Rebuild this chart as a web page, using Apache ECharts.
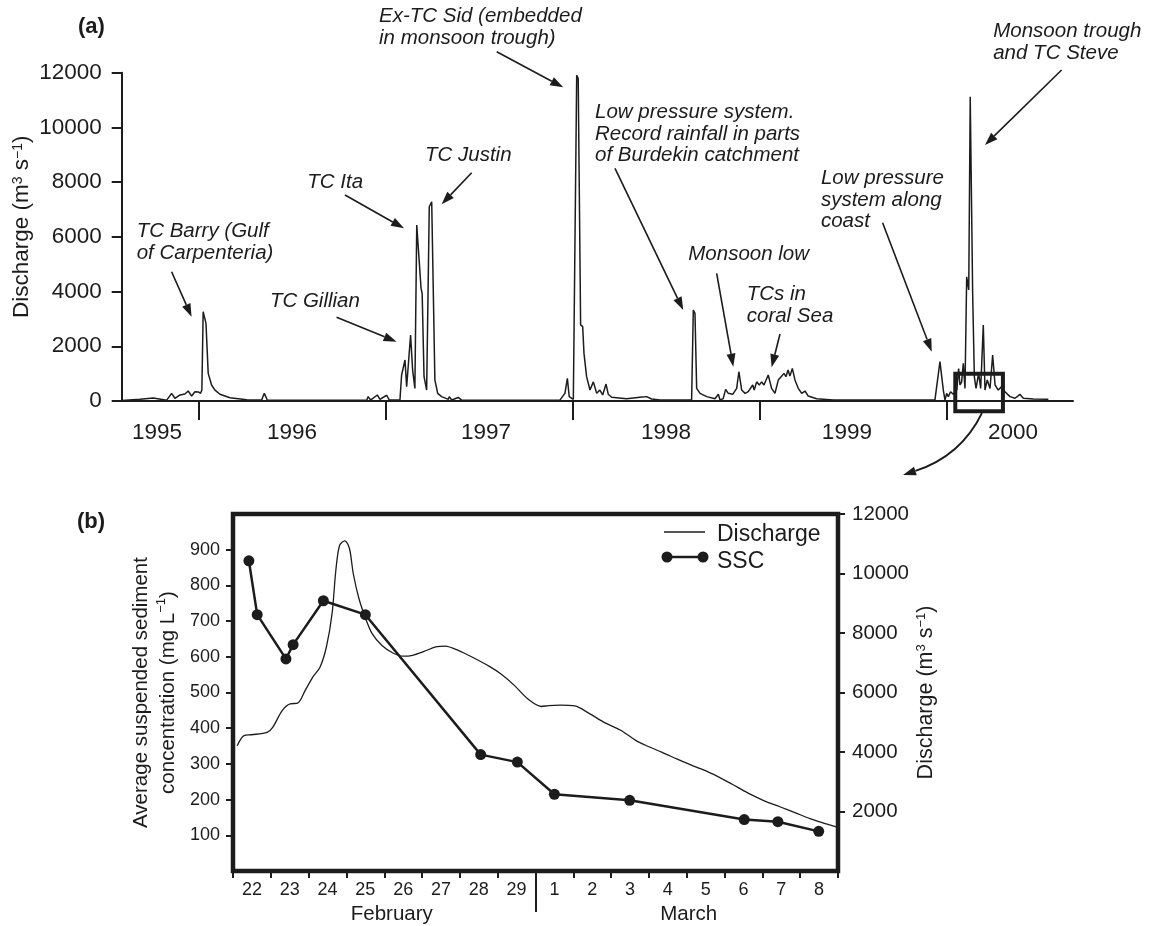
<!DOCTYPE html>
<html>
<head>
<meta charset="utf-8">
<script src="https://cdn.jsdelivr.net/npm/echarts@6.0.0/dist/echarts.min.js"></script>
<style>
  html, body { margin: 0; padding: 0; background: #fff; }
  #chart { width: 1154px; height: 926px; }
</style>
</head>
<body>
<div id="chart"></div>
<script>
// ---- panel (a): daily discharge, [decimal year, m3/s] ----
const dischargeA = [
  [1995.585, 20], [1995.683, 60], [1995.754, 110], [1995.826, 30], [1995.852, 280], [1995.870, 100],
  [1995.897, 220], [1995.923, 255], [1995.941, 365], [1995.959, 180], [1995.977, 340], [1995.995, 330],
  [1996.007, 280], [1996.014, 400], [1996.021, 3265], [1996.036, 2840], [1996.048, 1010], [1996.057, 950],
  [1996.066, 585], [1996.084, 400], [1996.111, 245], [1996.164, 120], [1996.254, 50], [1996.334, 35],
  [1996.348, 280], [1996.364, 35], [1996.896, 30], [1996.904, 160], [1996.917, 35], [1996.953, 220],
  [1996.967, 60], [1997.003, 210], [1997.017, 35], [1997.074, 35], [1997.083, 950], [1997.092, 1010],
  [1997.101, 1500], [1997.110, 520], [1997.131, 2410], [1997.142, 1130], [1997.154, 460], [1997.164, 6430],
  [1997.187, 4120], [1997.193, 3930], [1997.203, 890], [1997.217, 400], [1997.231, 7100], [1997.244, 7280],
  [1997.249, 7220], [1997.261, 770], [1997.276, 280], [1997.297, 160], [1997.333, 60], [1997.338, 160],
  [1997.351, 35], [1997.386, 130], [1997.404, 35], [1997.930, 30], [1997.957, 280], [1997.970, 830],
  [1997.980, 160], [1998.002, 60], [1998.020, 11910], [1998.028, 11790], [1998.041, 2780], [1998.052, 2720],
  [1998.059, 1740], [1998.073, 890], [1998.091, 400], [1998.109, 700], [1998.127, 280], [1998.144, 400],
  [1998.159, 220], [1998.177, 620], [1998.189, 245], [1998.207, 135], [1998.287, 85], [1998.359, 135],
  [1998.394, 160], [1998.421, 75], [1998.466, 35], [1998.635, 35], [1998.644, 3325], [1998.653, 3200],
  [1998.662, 460], [1998.680, 280], [1998.716, 160], [1998.760, 85], [1998.778, 245], [1998.787, 35],
  [1998.804, 85], [1998.817, 425], [1998.831, 280], [1998.855, 245], [1998.876, 460], [1998.888, 1070],
  [1998.903, 400], [1998.921, 280], [1998.938, 340], [1998.962, 585], [1998.970, 400], [1998.983, 700],
  [1998.997, 585], [1999.010, 700], [1999.022, 585], [1999.045, 950], [1999.063, 460], [1999.081, 280],
  [1999.099, 770], [1999.117, 910], [1999.129, 1010], [1999.140, 890], [1999.151, 1130], [1999.161, 910],
  [1999.174, 1190], [1999.188, 770], [1999.206, 460], [1999.224, 280], [1999.242, 365], [1999.259, 180],
  [1999.304, 85], [1999.393, 35], [1999.937, 35], [1999.964, 1440], [1999.982, 400], [1999.991, 35],
  [2000.000, 280], [2000.009, 160], [2000.021, 340], [2000.035, 245], [2000.054, 400], [2000.064, 1190],
  [2000.071, 585], [2000.080, 700], [2000.089, 1380], [2000.098, 460], [2000.107, 4540], [2000.118, 4060],
  [2000.126, 11120], [2000.139, 3930], [2000.148, 890], [2000.157, 460], [2000.171, 1010], [2000.182, 460],
  [2000.196, 2780], [2000.205, 400], [2000.217, 770], [2000.232, 460], [2000.246, 1680], [2000.259, 585],
  [2000.276, 400], [2000.294, 525], [2000.312, 340], [2000.339, 160], [2000.366, 100], [2000.392, 245],
  [2000.410, 100], [2000.464, 75], [2000.544, 60]
];
const yearTicks = [1996, 1997, 1998, 1999, 2000];
const yearLabels = ['1995', '1996', '1997', '1998', '1999', '2000'];
const yearLabelPos = [1995.774, 1996.496, 1997.535, 1998.498, 1999.466, 2000.355];

// annotations of panel (a), in data units [year, m3/s]
const notes = [
  { text: 'TC Barry (Gulf\nof Carpenteria)', at: [1995.665, 6590], from: [1995.852, 4726], to: [1995.959, 3081] },
  { text: 'TC Gillian', at: [1996.378, 4032], from: [1996.735, 3059], to: [1997.056, 2167] },
  { text: 'TC Ita', at: [1996.578, 8381], from: [1996.780, 7529], to: [1997.096, 6312] },
  { text: 'TC Justin', at: [1997.208, 9357], from: [1997.458, 8344], to: [1997.297, 7189] },
  { text: 'Ex-TC Sid (embedded\nin monsoon trough)', at: [1996.962, 14448], from: [1997.592, 12767], to: [1997.948, 11466] },
  { text: 'Low pressure system.\nRecord rainfall in parts\nof Burdekin catchment', at: [1998.118, 10939], from: [1998.225, 8505], to: [1998.590, 3326] },
  { text: 'Monsoon low', at: [1998.617, 5738], from: [1998.769, 4667], to: [1998.858, 1254] },
  { text: 'TCs in\ncoral Sea', at: [1998.930, 4276], from: [1999.108, 2449], to: [1999.063, 1232] },
  { text: 'Low pressure\nsystem along\ncoast', at: [1999.327, 8527], from: [1999.657, 6517], to: [1999.920, 1802] },
  { text: 'Monsoon trough\nand TC Steve', at: [2000.249, 13900], from: [2000.615, 12098], to: [2000.205, 9357] }
];
const zoomBox = [[2000.046, 998], [2000.301, -375]];

// ---- panel (b): Feb 22 - Mar 8 2000, x = days since 22 Feb 00:00 ----
const dischargeB = [
  [0.11, 4210], [0.29, 4550], [0.49, 4580], [0.90, 4660], [1.05, 4830], [1.30, 5390], [1.51, 5620],
  [1.71, 5640], [1.91, 6070], [2.11, 6520], [2.30, 6850], [2.47, 7530], [2.62, 8650], [2.72, 10110],
  [2.82, 10950], [2.96, 11100], [3.08, 10840], [3.18, 10000], [3.33, 9160], [3.51, 8480], [3.68, 7980],
  [3.94, 7580], [4.24, 7320], [4.50, 7220], [4.75, 7250], [5.05, 7380], [5.36, 7530], [5.61, 7560],
  [5.97, 7410], [6.37, 7160], [6.78, 6880], [7.08, 6630], [7.44, 6240], [7.79, 5790], [8.15, 5530],
  [8.35, 5560], [8.65, 5575], [9.04, 5550], [9.44, 5280], [9.84, 4980], [10.24, 4740], [10.64, 4400],
  [10.94, 4210], [11.35, 3990], [11.75, 3760], [12.15, 3540], [12.55, 3340], [12.95, 3090], [13.35, 2810],
  [13.65, 2600], [14.05, 2360], [14.46, 2160], [14.86, 1965], [15.26, 1760], [15.66, 1590], [15.96, 1480]
];
const sscB = [
  [0.42, 869], [0.64, 718], [1.40, 594], [1.59, 634], [2.39, 757], [3.50, 718], [6.55, 326],
  [7.52, 305], [8.50, 215], [10.49, 198], [13.52, 144], [14.41, 138], [15.49, 111]
];
const dayTicks = [0, 1, 2, 3, 4, 5, 6, 7, 8, 9, 10, 11, 12, 13, 14, 15, 16];
const dayLabels = ['22', '23', '24', '25', '26', '27', '28', '29', '1', '2', '3', '4', '5', '6', '7', '8'];
const dayLabelPos = [0.5, 1.5, 2.5, 3.5, 4.5, 5.5, 6.5, 7.5, 8.5, 9.5, 10.5, 11.5, 12.5, 13.5, 14.5, 15.5];
const monthLabels = ['February', 'March'];
const monthLabelPos = [4.2, 12.05];
const sscTicks = [100, 200, 300, 400, 500, 600, 700, 800, 900];
const qTicks = [2000, 4000, 6000, 8000, 10000, 12000];

const FONT = '"Liberation Sans", Arial, Helvetica, sans-serif';
const INK = '#1c1c1c';

const pick = (labels, pos) => v => {
  let best = 0;
  pos.forEach((p, i) => { if (Math.abs(p - v) < Math.abs(pos[best] - v)) best = i; });
  return labels[best];
};
const plain = v => String(Math.round(v));
const sup = size => ({ fontSize: size, fontFamily: FONT, color: INK, verticalAlign: 'top', lineHeight: size });
const tick = { color: INK, width: 2 };

const chart = echarts.init(document.getElementById('chart'), null, { renderer: 'canvas' });

const option = {
  animation: false,
  backgroundColor: '#fff',
  textStyle: { fontFamily: FONT, color: INK },
  grid: [
    { left: 121.7, top: 72.7, width: 951.3, height: 328.3, outerBoundsMode: 'none', containLabel: false },
    { left: 233, top: 514, width: 605, height: 357, show: true, borderColor: INK, borderWidth: 4.5,
      backgroundColor: 'transparent', outerBoundsMode: 'none', containLabel: false },
    { left: 233, top: 514, width: 605, height: 357, outerBoundsMode: 'none', containLabel: false }
  ],
  xAxis: [
    {
      gridIndex: 0, type: 'value', min: 1995.585, max: 2000.676, splitLine: { show: false },
      axisLine: { lineStyle: { color: INK, width: 2 } },
      axisTick: { customValues: yearTicks, length: 19, lineStyle: tick },
      axisLabel: { customValues: yearLabelPos, formatter: pick(yearLabels, yearLabelPos), fontSize: 22.5, color: INK, margin: 20 }
    },
    {
      gridIndex: 1, type: 'value', min: 0, max: 16, splitLine: { show: false }, axisLine: { show: false },
      axisTick: { customValues: dayTicks, length: 7, lineStyle: tick },
      axisLabel: { customValues: dayLabelPos, formatter: pick(dayLabels, dayLabelPos), fontSize: 18, color: INK, margin: 10 }
    },
    {
      gridIndex: 2, type: 'value', min: 0, max: 16, splitLine: { show: false }, axisLine: { show: false },
      axisTick: { customValues: [8], length: 41, lineStyle: tick },
      axisLabel: { customValues: monthLabelPos, formatter: pick(monthLabels, monthLabelPos), fontSize: 20.5, color: INK, margin: 33 }
    }
  ],
  yAxis: [
    {
      gridIndex: 0, type: 'value', min: 0, max: 12000, interval: 2000, splitLine: { show: false },
      axisLine: { show: true, lineStyle: { color: INK, width: 2 } },
      axisTick: { show: true, length: 10, lineStyle: tick },
      axisLabel: { fontSize: 22.5, color: INK, margin: 20, formatter: plain },
      name: 'Discharge (m{s|3} s{s|−1})', nameLocation: 'middle', nameRotate: 90, nameGap: 88, nameMoveOverlap: false,
      nameTextStyle: { fontSize: 22.5, color: INK, fontFamily: FONT, padding: [0, 0, 0, 20], rich: { s: sup(14) } }
    },
    {
      gridIndex: 1, type: 'value', min: 0, max: 1000, position: 'left', splitLine: { show: false },
      axisLine: { show: false },
      axisTick: { show: true, customValues: sscTicks, length: 7, lineStyle: tick },
      axisLabel: { customValues: sscTicks, fontSize: 18, color: INK, margin: 13, formatter: plain },
      name: 'Average suspended sediment\nconcentration (mg L{s|−1})', nameLocation: 'middle', nameRotate: 90, nameGap: 51,
      nameMoveOverlap: false,
      nameTextStyle: { fontSize: 20.5, lineHeight: 27, color: INK, fontFamily: FONT, rich: { s: sup(13) } }
    },
    {
      gridIndex: 1, type: 'value', min: 0, max: 12000, position: 'right', splitLine: { show: false },
      axisLine: { show: false },
      axisTick: { show: true, customValues: qTicks, length: 7, lineStyle: tick },
      axisLabel: { customValues: qTicks, fontSize: 20.5, color: INK, margin: 14, formatter: plain },
      name: 'Discharge (m{s|3} s{s|−1})', nameLocation: 'middle', nameRotate: 90, nameGap: 77, nameMoveOverlap: false,
      nameTextStyle: { fontSize: 21.5, color: INK, fontFamily: FONT, rich: { s: sup(13) } }
    },
    { gridIndex: 2, type: 'value', min: 0, max: 1000, show: false }
  ],
  series: [
    {
      name: 'Discharge 1995-2000', type: 'line', xAxisIndex: 0, yAxisIndex: 0, data: dischargeA,
      symbol: 'none', lineStyle: { color: INK, width: 1.5 }, silent: true
    },
    {
      name: 'Discharge', type: 'line', xAxisIndex: 1, yAxisIndex: 2, data: dischargeB,
      symbol: 'none', smooth: 0.3, lineStyle: { color: INK, width: 1.3 }, silent: true
    },
    {
      name: 'SSC', type: 'line', xAxisIndex: 1, yAxisIndex: 1, data: sscB, z: 3,
      symbol: 'circle', symbolSize: 11, itemStyle: { color: INK },
      lineStyle: { color: INK, width: 2.5 }, silent: true
    }
  ]
};
chart.setOption(option);

// ---- annotations, placed through the axes ----
const toA = p => chart.convertToPixel({ xAxisIndex: 0, yAxisIndex: 0 }, p);
const toB = p => chart.convertToPixel({ xAxisIndex: 1, yAxisIndex: 2 }, p);

function arrowHead(tip, dirX, dirY) {
  const L = Math.hypot(dirX, dirY), ux = dirX / L, uy = dirY / L;
  const bx = tip[0] - ux * 13, by = tip[1] - uy * 13;
  return {
    base: [bx, by],
    el: { type: 'polygon', shape: { points: [tip, [bx - uy * 4.5, by + ux * 4.5], [bx + uy * 4.5, by - ux * 4.5]] }, style: { fill: INK } }
  };
}

const graphics = [];
const textEl = (t, x, y, font, lh) => ({
  type: 'text', x, y,
  style: { text: t, font, fill: INK, lineHeight: lh, align: 'left', verticalAlign: 'top', textAlign: 'left', textVerticalAlign: 'top' }
});

notes.forEach(n => {
  const p = toA(n.at), a = toA(n.from), b = toA(n.to);
  graphics.push(textEl(n.text, p[0], p[1], 'italic 20.5px ' + FONT, 21.5));
  const head = arrowHead(b, b[0] - a[0], b[1] - a[1]);
  graphics.push({ type: 'line', shape: { x1: a[0], y1: a[1], x2: head.base[0], y2: head.base[1] }, style: { stroke: INK, lineWidth: 1.6 } });
  graphics.push(head.el);
});

// box marking the period of panel (b)
const c1 = toA(zoomBox[0]), c2 = toA(zoomBox[1]);
graphics.push({
  type: 'rect', z: 10,
  shape: { x: Math.min(c1[0], c2[0]), y: Math.min(c1[1], c2[1]), width: Math.abs(c2[0] - c1[0]), height: Math.abs(c2[1] - c1[1]) },
  style: { fill: 'none', stroke: INK, lineWidth: 4 }
});

// curved arrow from the box down to panel (b)
const s0 = toA([2000.189, -439]);
const s2 = toB([17.72, 13310]);
const cp = [s0[0] - 21, s0[1] + 43];
const ch = arrowHead(s2, s2[0] - cp[0], s2[1] - cp[1]);
graphics.push({ type: 'bezierCurve', shape: { x1: s0[0], y1: s0[1], x2: ch.base[0], y2: ch.base[1], cpx1: cp[0], cpy1: cp[1] }, style: { stroke: INK, lineWidth: 1.8, fill: 'none' } });
graphics.push(ch.el);

// panel letters
graphics.push({ type: 'text', x: 78, y: 27, style: { text: '(a)', font: 'bold 22px ' + FONT, fill: INK, verticalAlign: 'middle', textVerticalAlign: 'middle' } });
graphics.push({ type: 'text', x: 77, y: 522, style: { text: '(b)', font: 'bold 22px ' + FONT, fill: INK, verticalAlign: 'middle', textVerticalAlign: 'middle' } });

// legend of panel (b)
graphics.push({ type: 'line', shape: { x1: 664, y1: 532, x2: 705, y2: 532 }, style: { stroke: INK, lineWidth: 1.3 } });
graphics.push({ type: 'line', shape: { x1: 667, y1: 557, x2: 703, y2: 557 }, style: { stroke: INK, lineWidth: 2.5 } });
graphics.push({ type: 'circle', shape: { cx: 667, cy: 557, r: 5.5 }, style: { fill: INK } });
graphics.push({ type: 'circle', shape: { cx: 703, cy: 557, r: 5.5 }, style: { fill: INK } });
graphics.push({ type: 'text', x: 717, y: 535, style: { text: 'Discharge', font: '23px ' + FONT, fill: INK, verticalAlign: 'middle', textVerticalAlign: 'middle' } });
graphics.push({ type: 'text', x: 717, y: 562, style: { text: 'SSC', font: '23px ' + FONT, fill: INK, verticalAlign: 'middle', textVerticalAlign: 'middle' } });

chart.setOption({ graphic: graphics });
</script>
</body>
</html>
